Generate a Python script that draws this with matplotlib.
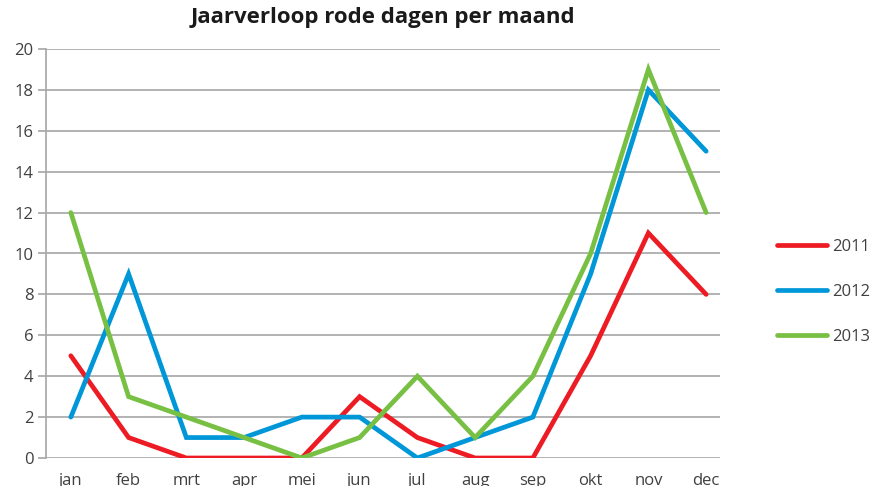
import matplotlib
matplotlib.use('Agg')
import matplotlib.pyplot as plt

months = ['jan', 'feb', 'mrt', 'apr', 'mei', 'jun', 'jul', 'aug', 'sep', 'okt', 'nov', 'dec']
y2011 = [5, 1, 0, 0, 0, 3, 1, 0, 0, 5, 11, 8]
y2012 = [2, 9, 1, 1, 2, 2, 0, 1, 2, 9, 18, 15]
y2013 = [12, 3, 2, 1, 0, 1, 4, 1, 4, 10, 19, 12]
years = ['2011', '2012', '2013']
colors = ['#ED1C24', '#0097D8', '#77C043']

plt.rcParams['font.family'] = ['Open Sans', 'DejaVu Sans']

fig = plt.figure(figsize=(8.77, 4.86), dpi=100)
ax = fig.add_axes([46 / 877, 1 - 458 / 486, (720 - 46) / 877, (458 - 49) / 486])

x = list(range(len(months)))
for vals, name, c in zip([y2011, y2012, y2013], years, colors):
    ax.plot(x, vals, color=c, lw=3.4, label=name, solid_capstyle='round',
            solid_joinstyle='miter')

ax.set_xlim(-0.43, 11.24)
ax.set_ylim(0, 20)
ax.set_yticks(range(0, 21, 2))
ax.set_xticks(x)
ax.set_xticklabels(months)
ax.grid(axis='y', color='#A6A6A6', lw=1.2)
ax.set_axisbelow(True)
for s in ['top', 'right', 'bottom']:
    ax.spines[s].set_visible(False)
ax.spines['left'].set_color('#A6A6A6')
ax.spines['left'].set_linewidth(1.2)
ax.tick_params(axis='y', length=6, color='#A6A6A6', width=1.2, labelsize=12,
               labelcolor='#404040', pad=3)
ax.tick_params(axis='x', length=0, labelsize=12, labelcolor='#404040', pad=11)

fig.suptitle('Jaarverloop rode dagen per maand', x=383 / 877, y=1 - 7 / 486,
             fontsize=16, fontweight='bold', va='top', color='#1a1a1a')

fig.legend(loc='center left', bbox_to_anchor=(762 / 877, 1 - 292 / 486),
           frameon=False, fontsize=12, handlelength=3.0, labelspacing=1.75,
           handletextpad=0.3, labelcolor='#404040')

fig.savefig('out.png', dpi=100)
